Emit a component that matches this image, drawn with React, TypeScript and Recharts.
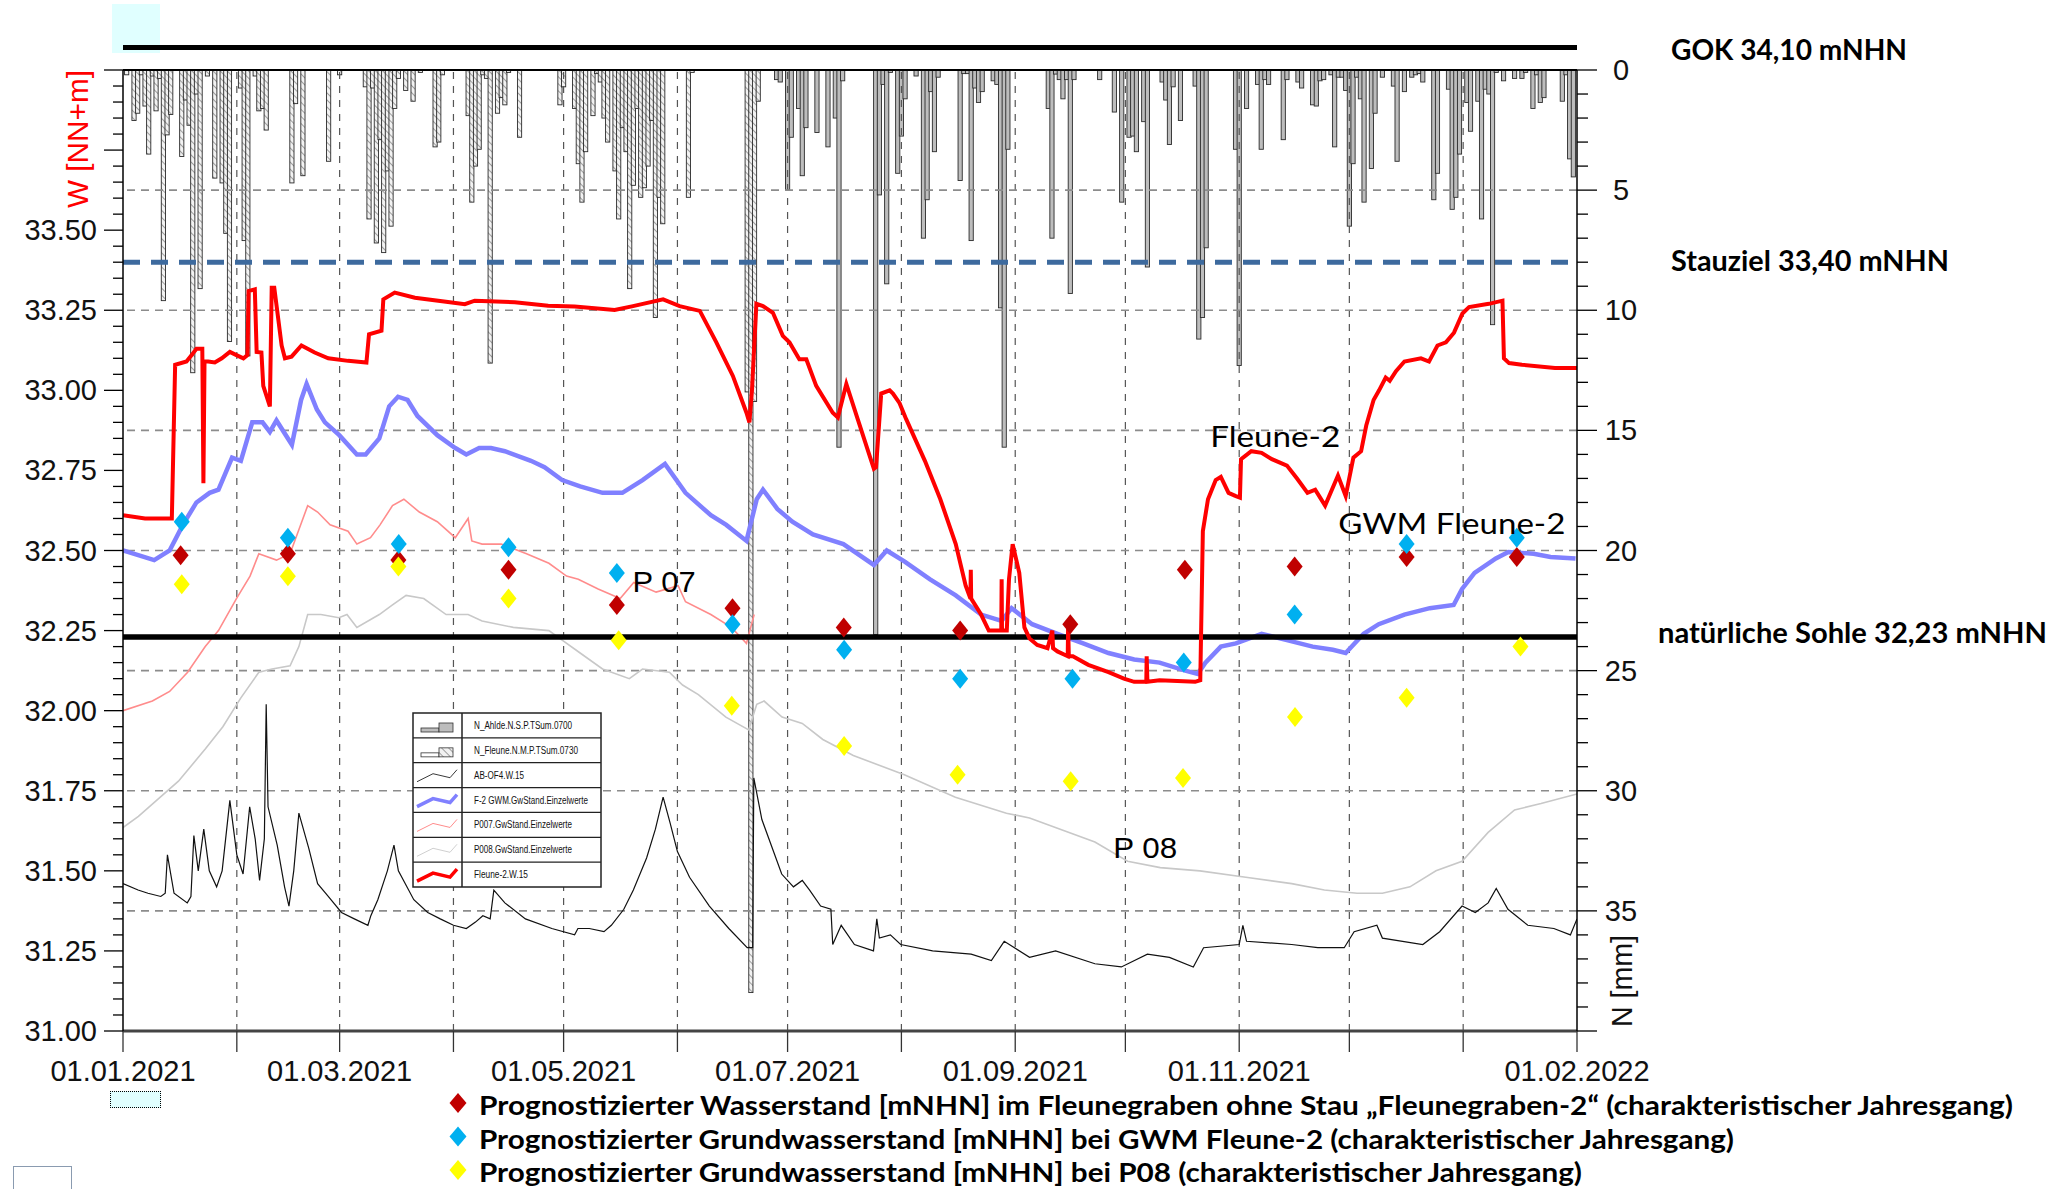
import React from "react";
import {
  ComposedChart,
  XAxis,
  YAxis,
  Bar,
  Line,
  Scatter,
  ReferenceLine,
  ReferenceDot,
} from "recharts";

type Pair = [number, number];

// day 0 = 01.01.2021 ... day 396 = 01.02.2022
const monthStarts = [0, 31, 59, 90, 120, 151, 181, 212, 243, 273, 304, 334, 365, 396];
const dateTickDays = [0, 59, 120, 181, 243, 304, 396];
const dateTickLabels = ["01.01.2021", "01.03.2021", "01.05.2021", "01.07.2021", "01.09.2021", "01.11.2021", "01.02.2022"];

const levelLabelValues = [31, 31.25, 31.5, 31.75, 32, 32.25, 32.5, 32.75, 33, 33.25, 33.5];
const levelLabels = ["31.00", "31.25", "31.50", "31.75", "32.00", "32.25", "32.50", "32.75", "33.00", "33.25", "33.50"];
const rainLabelValues = [0, 5, 10, 15, 20, 25, 30, 35];
const rainGridValues = [5, 10, 15, 20, 25, 30, 35];

const levelTicks = Array.from({ length: 61 }, (_, i) => Math.round((31 + i * 0.05) * 100) / 100);
const rainTicks = Array.from({ length: 41 }, (_, i) => i);

const gokLevel = 34.07;
const stauzielLevel = 33.4;
const sohleLevel = 32.23;

// precipitation [day, mm]
const fleuneRain: Pair[] = [
  [1, 0.2], [3, 2.1], [4, 1.8], [5, 0.2], [6, 1.5], [7, 3.5], [8, 0.25], [9, 1.7], [10, 0.35], [11, 9.6],
  [12, 2.7], [13, 1.85], [16, 3.6], [17, 1.25], [18, 2.3], [19, 12.6], [20, 1.0], [21, 9.1], [23, 0.25],
  [25, 4.5], [27, 4.7], [28, 6.8], [29, 11.3], [32, 0.75], [33, 7.1], [34, 11.9], [36, 0.25], [37, 1.7],
  [38, 1.6], [39, 2.5], [46, 4.7], [47, 1.4], [49, 4.4], [56, 3.8], [59, 0.2], [66, 0.7], [67, 6.2],
  [68, 0.75], [69, 7.2], [70, 2.9], [71, 7.6], [72, 4.2], [73, 6.5], [74, 1.6], [75, 0.35], [77, 0.85],
  [79, 1.3], [81, 0.1], [85, 3.2], [86, 3.0], [87, 0.2], [94, 1.9], [95, 5.5], [96, 4.0], [97, 3.3],
  [98, 0.2], [99, 0.35], [100, 12.2], [102, 1.8], [103, 1.15], [104, 1.45], [105, 0.1], [108, 2.8],
  [119, 1.45], [120, 0.7], [123, 1.6], [124, 3.9], [125, 5.5], [126, 3.4], [128, 1.9], [129, 0.15],
  [130, 0.5], [131, 2.0], [132, 3.0], [134, 4.2], [135, 6.2], [136, 2.4], [137, 3.4], [138, 9.1],
  [139, 4.8], [140, 1.6], [141, 5.3], [142, 4.9], [143, 4.0], [144, 2.1], [145, 10.3], [146, 5.3],
  [147, 6.4], [154, 5.3], [155, 0.1], [170, 13.4], [171, 38.4], [172, 13.8], [173, 1.3],
];

const ahldeRain: Pair[] = [
  [178, 0.4], [179, 0.5], [181, 5.0], [182, 2.8], [184, 1.6], [185, 4.4], [186, 2.4], [189, 2.6],
  [192, 3.2], [194, 2.0], [195, 15.7], [196, 0.45], [205, 23.5], [206, 5.2], [207, 0.6], [208, 8.9],
  [209, 0.1], [211, 4.3], [212, 2.75], [213, 1.2], [216, 0.25], [218, 7.0], [219, 5.4], [220, 0.9],
  [221, 3.4], [222, 0.3], [228, 4.6], [229, 0.15], [230, 0.15], [231, 7.1], [232, 0.75], [233, 1.35],
  [234, 0.9], [237, 0.45], [238, 0.6], [239, 9.9], [240, 15.7], [241, 3.3], [252, 1.6], [253, 7.0],
  [254, 0.17], [255, 0.4], [256, 1.2], [257, 0.4], [258, 9.3], [259, 0.4], [266, 0.4], [270, 1.75],
  [272, 5.5], [274, 2.8], [275, 2.75], [276, 3.4], [278, 2.15], [279, 8.2], [283, 0.5], [284, 1.25],
  [285, 3.1], [286, 0.7], [288, 2.1], [292, 0.67], [293, 11.2], [294, 10.3], [295, 7.4], [303, 3.3],
  [304, 12.3], [306, 1.6], [309, 0.6], [310, 3.3], [311, 0.4], [312, 0.6], [316, 2.9], [317, 0.4],
  [320, 0.5], [321, 0.75], [324, 1.45], [325, 1.5], [326, 0.45], [327, 0.4], [329, 0.2], [330, 3.2],
  [331, 0.3], [332, 0.3], [333, 0.85], [334, 6.5], [335, 3.9], [336, 0.3], [337, 1.2], [338, 5.5],
  [340, 4.1], [341, 1.8], [343, 0.3], [346, 0.67], [347, 3.8], [349, 0.9], [351, 0.3], [352, 0.2],
  [353, 0.15], [354, 0.5], [357, 5.4], [358, 4.3], [361, 0.8], [362, 5.8], [363, 5.3], [364, 3.5],
  [366, 1.35], [367, 2.55], [369, 1.3], [370, 6.2], [371, 0.8], [372, 1.0], [373, 10.6], [374, 0.1],
  [376, 0.45], [379, 0.35], [381, 0.35], [382, 0.1], [384, 1.6], [385, 0.2], [386, 1.35], [387, 1.15],
  [392, 1.3], [393, 0.2], [394, 3.7], [395, 4.45],
];

// water levels [day, m NHN]
const fleune2W: Pair[] = [
  [0, 32.61], [6, 32.6], [13.3, 32.6], [14.2, 33.08], [17.3, 33.09], [18.7, 33.11], [20, 33.13], [21.6, 33.13],
  [21.9, 32.71], [22.2, 33.09], [23.2, 33.09], [25, 33.087], [26.9, 33.1], [29.1, 33.12], [30.9, 33.11],
  [32.8, 33.1], [33.9, 33.11], [34.2, 33.31], [35.9, 33.315], [36.4, 33.12], [37.7, 33.118], [38.2, 33.014],
  [40, 32.95], [40.5, 33.32], [41.2, 33.32], [43.2, 33.14], [44.1, 33.1], [45.9, 33.105], [48.6, 33.14],
  [52.2, 33.118], [55.9, 33.1], [61.3, 33.092], [66.3, 33.087], [67, 33.175], [70.4, 33.186], [70.9, 33.284],
  [74, 33.305], [79.5, 33.289], [88.5, 33.276], [93.1, 33.269], [95.8, 33.28], [106.7, 33.275],
  [115.8, 33.264], [123, 33.262], [133.9, 33.251], [138.9, 33.263], [147.1, 33.284], [151.6, 33.263],
  [157.1, 33.248], [161.6, 33.15], [166.1, 33.045], [169.8, 32.93], [170.6, 32.9], [171.3, 33.0],
  [172.5, 33.27], [174.3, 33.263], [177, 33.242], [179.7, 33.17], [181.5, 33.15], [184.2, 33.097],
  [186.1, 33.097], [188.8, 33.014], [193.3, 32.93], [194.7, 32.915], [197, 33.02], [200.1, 32.91],
  [204.5, 32.755], [205.1, 32.76], [206.5, 32.99], [208.8, 33.0], [209.7, 32.99], [211.5, 32.96],
  [213.3, 32.91], [218.4, 32.78], [222.6, 32.66], [226.8, 32.52], [229.5, 32.39], [230.8, 32.35],
  [230.9, 32.44], [231, 32.35], [233.7, 32.3], [235.8, 32.25], [239.2, 32.25], [239.3, 32.41],
  [239.4, 32.25], [240.7, 32.25], [241.3, 32.41], [242.3, 32.52], [244.1, 32.43], [245.5, 32.26],
  [246.9, 32.225], [249, 32.205], [251.8, 32.195], [253.1, 32.25], [253.3, 32.195], [254.5, 32.185],
  [257.3, 32.17], [257.4, 32.26], [257.6, 32.17], [258.7, 32.17], [262.9, 32.143], [268.4, 32.12],
  [272.6, 32.1], [275.4, 32.09], [278.7, 32.09], [278.8, 32.17], [279, 32.09], [282.3, 32.095],
  [292, 32.09], [293.4, 32.095], [294.1, 32.56], [295.5, 32.66], [297.6, 32.72], [299, 32.73],
  [301.1, 32.68], [303.1, 32.67], [304.2, 32.665], [304.5, 32.785], [307.3, 32.81], [310.1, 32.805],
  [312.9, 32.785], [317, 32.765], [319.8, 32.724], [322.6, 32.68], [324.7, 32.69], [327.4, 32.64],
  [330.9, 32.734], [333, 32.67], [335.1, 32.79], [337.2, 32.81], [338.6, 32.89], [340.6, 32.97],
  [342.1, 33.0], [343.9, 33.04], [345, 33.03], [346.7, 33.06], [349, 33.09], [353.5, 33.1], [355.7, 33.09],
  [358, 33.14], [360.3, 33.15], [362.5, 33.18], [364.8, 33.24], [366.6, 33.26], [372, 33.27],
  [375.7, 33.28], [376.1, 33.1], [377.5, 33.085], [381, 33.08], [390, 33.07], [396, 33.07],
];

const f2Gwm: Pair[] = [
  [0, 32.5], [8.5, 32.47], [12.7, 32.5], [16.3, 32.58], [20, 32.65], [23.6, 32.68], [26, 32.69], [29.7, 32.79],
  [32.1, 32.78], [35.2, 32.9], [38, 32.9], [40, 32.87], [41.8, 32.906], [46, 32.83], [48.5, 32.97], [50, 33.02],
  [52.8, 32.94], [55, 32.9], [58.9, 32.86], [63.7, 32.8], [66.1, 32.8], [69.8, 32.85], [72.5, 32.95],
  [74.9, 32.98], [77.5, 32.97], [80.2, 32.92], [85.6, 32.86], [90.5, 32.82], [93.5, 32.8], [97, 32.82],
  [100.2, 32.82], [104, 32.81], [111.1, 32.78], [114.8, 32.76], [119.6, 32.72], [124.5, 32.7], [130.6, 32.68],
  [136, 32.68], [141.5, 32.72], [147.6, 32.77], [153.2, 32.68], [160.1, 32.61], [164.3, 32.58], [169.8, 32.53],
  [172.6, 32.66], [174.3, 32.69], [178.2, 32.63], [182.3, 32.59], [187.9, 32.55], [196.2, 32.52],
  [204.5, 32.455], [208, 32.5], [212.9, 32.465], [219.8, 32.41], [226.8, 32.36], [233.7, 32.3], [239.3, 32.28],
  [242, 32.32], [247.6, 32.27], [254.5, 32.24], [261.5, 32.21], [268.4, 32.18], [275.4, 32.16], [282.3, 32.15],
  [289.3, 32.125], [292.7, 32.115], [294.8, 32.15], [299, 32.2], [303.1, 32.21], [310.1, 32.24], [317, 32.22],
  [324, 32.2], [329.5, 32.19], [333, 32.18], [337.9, 32.24], [342, 32.27], [349, 32.3], [355.9, 32.32],
  [362.4, 32.33], [364.7, 32.38], [368.1, 32.43], [373.9, 32.475], [377.3, 32.495], [384.2, 32.49],
  [388.8, 32.48], [395.6, 32.475],
];

const p007: Pair[] = [
  [0, 32.0], [8, 32.03], [12.7, 32.06], [17.6, 32.12], [22.4, 32.2], [26, 32.25], [30.9, 32.35], [34.6, 32.42],
  [37, 32.49], [41.8, 32.47], [45.5, 32.49], [50.3, 32.64], [53, 32.62], [56.4, 32.58], [61.3, 32.56],
  [63.7, 32.52], [67.4, 32.54], [70, 32.58], [73.4, 32.64], [76.5, 32.66], [80.7, 32.62], [85.6, 32.59],
  [90.5, 32.54], [94, 32.6], [95, 32.53], [97.8, 32.52], [103, 32.52], [109.9, 32.49], [116, 32.46],
  [120.8, 32.42], [124, 32.41], [129.4, 32.38], [135.4, 32.35], [139.1, 32.4], [145.2, 32.37], [151.2, 32.39],
  [153.2, 32.34], [160.1, 32.3], [165.7, 32.26], [169.8, 32.21], [171.9, 32.3],
];

const p008: Pair[] = [
  [0, 31.635], [4.2, 31.67], [15.1, 31.78], [22.4, 31.88], [27.2, 31.95], [32.1, 32.04], [37, 32.12],
  [40.6, 32.13], [45.5, 32.14], [47.9, 32.2], [50.3, 32.3], [53.9, 32.3], [58.8, 32.29], [61, 32.3],
  [63.7, 32.26], [69.8, 32.3], [73.4, 32.33], [77.1, 32.36], [81.9, 32.35], [88, 32.3], [94, 32.3],
  [97.8, 32.28], [106.3, 32.26], [116, 32.25], [119.6, 32.22], [124.5, 32.18], [130.6, 32.13], [137.9, 32.1],
  [141.5, 32.13], [148.8, 32.12], [152.4, 32.08], [156.7, 32.05], [164.2, 31.98], [170.4, 31.94],
  [172.6, 32.02], [174.6, 32.03], [179.5, 31.98], [185, 31.96], [190.6, 31.91], [198.9, 31.86], [212.8, 31.8],
  [226.7, 31.73], [240.6, 31.68], [246.9, 31.665], [264.7, 31.59], [273.6, 31.53], [282.5, 31.51],
  [293.3, 31.5], [305.8, 31.48], [318.3, 31.46], [327.2, 31.44], [336.1, 31.43], [343, 31.43], [350.5, 31.45],
  [357.6, 31.5], [364.7, 31.53], [371.8, 31.62], [379, 31.69], [386.2, 31.71], [396, 31.74],
];

const abOf4: Pair[] = [
  [0, 31.46], [4.1, 31.44], [6.8, 31.43], [10.3, 31.42], [11.5, 31.43], [12.1, 31.55], [13.9, 31.43],
  [17.5, 31.4], [18.5, 31.42], [19.3, 31.61], [20.5, 31.5], [22, 31.63], [23.5, 31.5], [25.5, 31.45],
  [27, 31.5], [29.1, 31.72], [31, 31.55], [32.7, 31.49], [34.5, 31.7], [36, 31.6], [37.2, 31.47],
  [38.5, 31.6], [39, 32.02], [39.5, 31.7], [42, 31.58], [44, 31.45], [45.2, 31.39], [46.5, 31.5],
  [47.9, 31.68], [50.6, 31.57], [53, 31.46], [55.9, 31.42], [59.5, 31.37], [63, 31.35], [66.7, 31.33],
  [67.5, 31.36], [69.4, 31.41], [72, 31.5], [73.8, 31.58], [75, 31.5], [79.2, 31.41], [83, 31.37],
  [86.4, 31.35], [90, 31.33], [93.5, 31.32], [96, 31.34], [98, 31.36], [100, 31.35], [101, 31.44],
  [104, 31.4], [109.6, 31.35], [116.8, 31.32], [123, 31.3], [123.9, 31.32], [127, 31.32], [131, 31.31],
  [133, 31.33], [136.4, 31.38], [139, 31.44], [142.6, 31.54], [145, 31.63], [147.1, 31.73], [149, 31.65],
  [151, 31.56], [154.3, 31.48], [159.7, 31.39], [165, 31.32], [170, 31.26], [171.5, 31.26], [171.8, 31.79],
  [174, 31.66], [179.4, 31.49], [182.6, 31.45], [185, 31.47], [187, 31.44], [190, 31.39], [192.8, 31.38],
  [193.3, 31.27], [195.6, 31.33], [199.2, 31.27], [204.4, 31.25], [205.3, 31.35], [206, 31.29], [209, 31.3],
  [211.8, 31.27], [220.5, 31.25], [231, 31.24], [236.5, 31.22], [240, 31.28], [246.9, 31.23], [254, 31.25],
  [264.7, 31.21], [271.9, 31.2], [279, 31.24], [285, 31.23], [291.5, 31.2], [294.3, 31.26], [304, 31.27],
  [305, 31.33], [306, 31.28], [318.3, 31.27], [325.4, 31.26], [332.6, 31.26], [335.3, 31.31], [341.5, 31.33],
  [343, 31.29], [354, 31.27], [358.6, 31.31], [364.7, 31.39], [368.3, 31.37], [371.8, 31.4], [374, 31.445],
  [377.2, 31.38], [382.6, 31.33], [389.7, 31.32], [394.2, 31.3], [396, 31.35],
];

// forecast (charakteristischer Jahresgang)
const forecastFleunegraben: Pair[] = [
  [15.7, 32.485], [44.9, 32.49], [75, 32.47], [105, 32.44], [134.5, 32.33], [166, 32.32], [196.3, 32.26],
  [228, 32.25], [258, 32.27], [289.2, 32.44], [319.1, 32.45], [349.6, 32.48], [379.6, 32.48],
];
const forecastGwm: Pair[] = [
  [16, 32.59], [44.9, 32.54], [75.1, 32.52], [105, 32.51], [134.5, 32.43], [166, 32.27], [196.4, 32.19],
  [228, 32.1], [258.6, 32.1], [288.9, 32.15], [319.1, 32.3], [349.6, 32.52], [379.6, 32.54],
];
const forecastP08: Pair[] = [
  [16, 32.395], [44.9, 32.42], [75, 32.45], [105, 32.35], [135, 32.22], [165.8, 32.015], [196.4, 31.89],
  [227.3, 31.8], [258.1, 31.78], [288.7, 31.79], [319.2, 31.98], [349.6, 32.04], [380.6, 32.2],
];

const curveNotes = [
  { day: 138.8, level: 32.372, text: "P 07" },
  { day: 296.1, level: 32.824, text: "Fleune-2" },
  { day: 331.0, level: 32.553, text: "GWM Fleune-2" },
  { day: 269.7, level: 31.541, text: "P 08" },
];

const seriesNames = [
  "N_Ahlde.N.S.P.TSum.0700",
  "N_Fleune.N.M.P.TSum.0730",
  "AB-OF4.W.15",
  "F-2 GWM.GwStand.Einzelwerte",
  "P007.GwStand.Einzelwerte",
  "P008.GwStand.Einzelwerte",
  "Fleune-2.W.15",
];

const forecastNames = [
  "Prognostizierter Wasserstand [mNHN] im Fleunegraben ohne Stau \u201EFleunegraben-2\u201C (charakteristischer Jahresgang)",
  "Prognostizierter Grundwasserstand [mNHN] bei GWM Fleune-2 (charakteristischer Jahresgang)",
  "Prognostizierter Grundwasserstand [mNHN] bei P08 (charakteristischer Jahresgang)",
];

// ---- styles ----
const AXIS_FONT = "'Liberation Sans', Arial, Helvetica, sans-serif";
const NOTE_FONT = "Lato, 'Open Sans', 'Noto Sans', sans-serif";
const RED = "#ff0000";
const BLUE = "#8080ff";
const PINK = "#ff8c8c";
const GREY = "#c8c8c8";
const DIAMOND_COLORS = ["#c00000", "#00b0f0", "#ffff00"];
const noteLen: Record<string, number> = { "P 07": 63, "Fleune-2": 130, "GWM Fleune-2": 227, "P 08": 64 };
const seriesNameLen = [98, 104, 50, 114, 98, 98, 54];
const forecastLen = [1534, 1255, 1103];

const toPts = (arr: Pair[]) => arr.map(([day, v]) => ({ day, v }));

const rainData = [
  ...fleuneRain.map(([day, mm]) => ({ day, mm, station: "fleune" })),
  ...ahldeRain.map(([day, mm]) => ({ day, mm, station: "ahlde" })),
];

const LevelTick = (props: any) => {
  const { x, y, payload } = props;
  const v = payload.value;
  const major = Math.abs(v * 4 - Math.round(v * 4)) < 1e-6;
  const idx = levelLabelValues.findIndex((l) => Math.abs(l - v) < 1e-6);
  return (
    <g>
      <line x1={x - (major ? 19 : 10)} x2={x} y1={y} y2={y} stroke="#000" strokeWidth={1.3} />
      {idx >= 0 && (
        <text x={x - 26} y={y + 10} textAnchor="end" fontSize={29} fontFamily={AXIS_FONT} fill="#111">
          {levelLabels[idx]}
        </text>
      )}
    </g>
  );
};

const RainTick = (props: any) => {
  const { x, y, payload } = props;
  const v = payload.value;
  const major = v % 5 === 0;
  return (
    <g>
      <line x1={x} x2={x + (major ? 20 : 11)} y1={y} y2={y} stroke="#000" strokeWidth={1.3} />
      {rainLabelValues.includes(v) && (
        <text x={x + 44} y={y + 10} textAnchor="middle" fontSize={29} fontFamily={AXIS_FONT} fill="#111">
          {v}
        </text>
      )}
    </g>
  );
};

const DateTick = (props: any) => {
  const { x, y, payload } = props;
  const idx = dateTickDays.indexOf(payload.value);
  return (
    <g>
      <line x1={x} x2={x} y1={y} y2={y + 21} stroke="#333" strokeWidth={1.3} />
      {idx >= 0 && (
        <text x={x} y={y + 50} textAnchor="middle" fontSize={29} fontFamily={AXIS_FONT} fill="#111">
          {dateTickLabels[idx]}
        </text>
      )}
    </g>
  );
};

const RainBar = (props: any) => {
  const { x, y, width, height, payload } = props;
  if (!height || x == null) return null;
  const cx = x + width / 2;
  const top = Math.min(y, y + height);
  return (
    <rect
      x={cx - 2.1}
      y={top}
      width={4.2}
      height={Math.abs(height)}
      fill={payload && payload.station === "fleune" ? "url(#rainHatch)" : "#bdbdbd"}
      stroke="#2b2b2b"
      strokeWidth={0.9}
    />
  );
};

const diamond = (color: string) => (props: any) => {
  const { cx, cy } = props;
  if (cx == null || cy == null) return null;
  return <polygon points={`${cx},${cy - 10} ${cx + 8},${cy} ${cx},${cy + 10} ${cx - 8},${cy}`} fill={color} />;
};

const SideNote = (props: any) => {
  const { viewBox, text, dx, dy, len } = props;
  if (!viewBox) return null;
  return (
    <text
      x={viewBox.x + viewBox.width + dx}
      y={viewBox.y + dy}
      fontFamily={NOTE_FONT}
      fontWeight={700}
      fontSize={28}
      fill="#000"
      textLength={len}
      lengthAdjust="spacingAndGlyphs"
    >
      {text}
    </text>
  );
};

const CurveNote = (props: any) => {
  const { viewBox, text } = props;
  if (!viewBox) return null;
  const narrow = text.startsWith("P ");
  return (
    <text
      x={viewBox.x}
      y={viewBox.y}
      fontFamily={narrow ? AXIS_FONT : NOTE_FONT}
      fontSize={narrow ? 30 : 29}
      fill="#000"
      textLength={noteLen[text]}
      lengthAdjust="spacingAndGlyphs"
    >
      {text}
    </text>
  );
};

const LevelTitle = (props: any) => {
  const { viewBox } = props;
  if (!viewBox) return null;
  const cx = viewBox.x + 88;
  const cy = viewBox.y + 69;
  return (
    <text x={cx} y={cy} transform={`rotate(-90 ${cx} ${cy})`} textAnchor="middle" fontSize={29}
      fontFamily={AXIS_FONT} fill="#ff0000" textLength={138} lengthAdjust="spacingAndGlyphs">
      W [NN+m]
    </text>
  );
};

const RainTitle = (props: any) => {
  const { viewBox } = props;
  if (!viewBox) return null;
  const cx = viewBox.x + 55;
  const cy = viewBox.y + viewBox.height - 50;
  return (
    <text x={cx} y={cy} transform={`rotate(-90 ${cx} ${cy})`} textAnchor="middle" fontSize={29}
      fontFamily={AXIS_FONT} fill="#111" textLength={92} lengthAdjust="spacingAndGlyphs">
      N [mm]
    </text>
  );
};

const SeriesTable = () => {
  const rowH = 174 / 7;
  return (
    <g transform="translate(413,713)">
      <rect x={0} y={0} width={188} height={174} fill="#fff" stroke="#222" strokeWidth={1.5} />
      <line x1={49} x2={49} y1={0} y2={174} stroke="#222" strokeWidth={1.5} />
      {seriesNames.map((name, i) => {
        const y0 = i * rowH;
        let icon: React.ReactNode = null;
        if (i < 2) {
          icon = (
            <g>
              <rect x={8} y={y0 + 15} width={18} height={4} fill={i === 0 ? "#bdbdbd" : "#fff"} stroke="#333" strokeWidth={0.8} />
              <rect x={26} y={y0 + 10} width={14} height={9} fill={i === 0 ? "#bdbdbd" : "url(#rainHatch)"} stroke="#333" strokeWidth={0.8} />
            </g>
          );
        } else {
          const col = [null, null, "#222", BLUE, PINK, "#d0d0d0", RED][i] as string;
          const w = [0, 0, 0.9, 3.5, 1, 1, 3.5][i];
          icon = (
            <polyline points={`4,${y0 + 19} 20,${y0 + 11} 37,${y0 + 15} 44,${y0 + 7}`} fill="none" stroke={col} strokeWidth={w} />
          );
        }
        return (
          <g key={name}>
            {i > 0 && <line x1={0} x2={188} y1={y0} y2={y0} stroke="#222" strokeWidth={1.2} />}
            {icon}
            <text x={61} y={y0 + 16} fontSize={10} fontFamily={AXIS_FONT} fill="#111"
              textLength={seriesNameLen[i]} lengthAdjust="spacingAndGlyphs">
              {name}
            </text>
          </g>
        );
      })}
    </g>
  );
};

const ForecastLegend = () => (
  <g>
    {forecastNames.map((name, i) => {
      const cy = 1103 + i * 33.5;
      return (
        <g key={name}>
          <polygon points={`458,${cy - 10} 466.5,${cy} 458,${cy + 10} 449.5,${cy}`} fill={DIAMOND_COLORS[i]} />
          <text x={479} y={cy + 12} fontFamily={NOTE_FONT} fontWeight={700} fontSize={27} fill="#000"
            textLength={forecastLen[i]} lengthAdjust="spacingAndGlyphs">
            {name}
          </text>
        </g>
      );
    })}
  </g>
);

export default function App() {
  return (
    <div style={{ position: "absolute", left: 0, top: 0, width: 2059, height: 1189, background: "#fff", overflow: "hidden" }}>
      <div style={{ position: "absolute", left: 112, top: 4, width: 48, height: 49, background: "#e0ffff" }} />
      <div style={{ position: "absolute", left: 110, top: 1091, width: 49, height: 15, background: "#e0ffff", border: "1px dotted #000" }} />
      <div style={{ position: "absolute", left: 13, top: 1166, width: 57, height: 30, border: "1.5px solid #8a9bb0" }} />
      <div style={{ position: "absolute", left: 0, top: 0 }}>
        <ComposedChart width={2059} height={1189} data={rainData} margin={{ top: 70, right: 0, bottom: 0, left: 0 }}>
          <XAxis
            dataKey="day"
            type="number"
            domain={[0, 396]}
            ticks={monthStarts}
            interval={0}
            allowDataOverflow
            height={158}
            tickSize={0}
            tickMargin={0}
            tickLine={false}
            tick={<DateTick />}
            axisLine={{ stroke: "#444", strokeWidth: 3 }}
          />
          <YAxis
            yAxisId="w"
            orientation="left"
            type="number"
            domain={[31, 34]}
            ticks={levelTicks}
            interval={0}
            allowDataOverflow
            width={123}
            tickSize={0}
            tickMargin={0}
            tickLine={false}
            tick={<LevelTick />}
            axisLine={{ stroke: "#000", strokeWidth: 1.5 }}
            label={<LevelTitle />}
          />
          <YAxis
            yAxisId="n"
            orientation="right"
            type="number"
            domain={[0, 40]}
            reversed
            ticks={rainTicks}
            interval={0}
            allowDataOverflow
            width={482}
            tickSize={0}
            tickMargin={0}
            tickLine={false}
            tick={<RainTick />}
            axisLine={{ stroke: "#000", strokeWidth: 1.5 }}
            label={<RainTitle />}
          />

          {monthStarts.slice(1, -1).map((d) => (
            <ReferenceLine key={`v${d}`} x={d} yAxisId="w" stroke="#555" strokeWidth={1.2} strokeDasharray="7 7" />
          ))}
          {rainGridValues.map((mm) => (
            <ReferenceLine key={`h${mm}`} y={mm} yAxisId="n" stroke="#8c8c8c" strokeWidth={1.6} strokeDasharray="8 6" />
          ))}

          <Bar yAxisId="n" dataKey="mm" shape={<RainBar />} isAnimationActive={false} />

          <ReferenceLine y={0} yAxisId="n" stroke="#000" strokeWidth={2} />
          <ReferenceLine
            y={stauzielLevel}
            yAxisId="w"
            stroke="#3d6a9e"
            strokeWidth={5}
            strokeDasharray="17 11"
            label={<SideNote text="Stauziel 33,40 mNHN" dx={94} dy={8.5} len={278} />}
          />
          <ReferenceLine
            y={gokLevel}
            yAxisId="w"
            ifOverflow="visible"
            stroke="#000"
            strokeWidth={5}
            label={<SideNote text="GOK 34,10 mNHN" dx={94} dy={12} len={236} />}
          />

          <Line data={toPts(abOf4)} dataKey="v" yAxisId="w" type="linear" stroke="#111" strokeWidth={1.2} dot={false} isAnimationActive={false} />
          <Line data={toPts(p008)} dataKey="v" yAxisId="w" type="linear" stroke={GREY} strokeWidth={1.6} dot={false} isAnimationActive={false} />
          <Line data={toPts(p007)} dataKey="v" yAxisId="w" type="linear" stroke={PINK} strokeWidth={1.6} dot={false} isAnimationActive={false} />
          <Line data={toPts(f2Gwm)} dataKey="v" yAxisId="w" type="linear" stroke={BLUE} strokeWidth={4.5} dot={false} isAnimationActive={false} />

          <ReferenceLine
            y={sohleLevel}
            yAxisId="w"
            stroke="#000"
            strokeWidth={5.5}
            label={<SideNote text="natürliche Sohle 32,23 mNHN" dx={81} dy={6} len={389} />}
          />

          <Line data={toPts(fleune2W)} dataKey="v" yAxisId="w" type="linear" stroke={RED} strokeWidth={4} dot={false} isAnimationActive={false} />

          <Scatter data={toPts(forecastFleunegraben)} dataKey="v" yAxisId="w" shape={diamond(DIAMOND_COLORS[0])} isAnimationActive={false} />
          <Scatter data={toPts(forecastGwm)} dataKey="v" yAxisId="w" shape={diamond(DIAMOND_COLORS[1])} isAnimationActive={false} />
          <Scatter data={toPts(forecastP08)} dataKey="v" yAxisId="w" shape={diamond(DIAMOND_COLORS[2])} isAnimationActive={false} />

          {curveNotes.map((n) => (
            <ReferenceDot key={n.text} x={n.day} y={n.level} yAxisId="w" r={0} fill="none" stroke="none"
              label={<CurveNote text={n.text} />} />
          ))}
        </ComposedChart>
      </div>
      <svg width={2059} height={1189} style={{ position: "absolute", left: 0, top: 0, pointerEvents: "none" }}>
        <defs>
          <pattern id="rainHatch" width="5" height="5" patternUnits="userSpaceOnUse" patternTransform="rotate(-45)">
            <rect width="5" height="5" fill="#f2f2f2" />
            <line x1="0" y1="0" x2="0" y2="5" stroke="#8a8a8a" strokeWidth="1.6" />
          </pattern>
        </defs>
        <SeriesTable />
        <ForecastLegend />
      </svg>
    </div>
  );
}
